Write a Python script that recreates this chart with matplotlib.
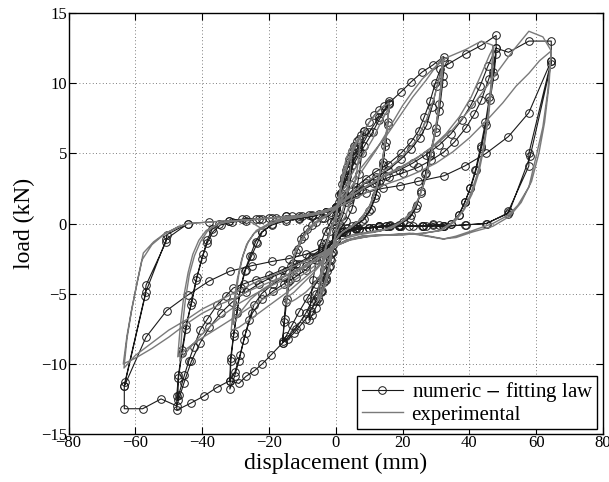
import numpy as np
import matplotlib
matplotlib.use("Agg")
import matplotlib.pyplot as plt

plt.rcParams['font.family'] = ['Liberation Serif', 'DejaVu Serif']
plt.rcParams['mathtext.fontset'] = 'stix'

# ---------------- numeric - fitting law (displacement mm, load kN) ----------------
num_small = [(0, 0), (1, 1.5), (2, 2.8), (3, 3.8), (4, 4.6), (5, 5.2), (5.5, 5.5),
             (5, 4.2), (4.2, 2.8), (3.2, 1.5), (2, 0.5), (1, 0), (0, -0.5),
             (-0.8, -1.5), (-1.6, -2.5), (-2.5, -3.4), (-3.5, -4.2), (-4.5, -4.9), (-5.2, -5.3),
             (-4.8, -4.0), (-4.0, -2.6), (-3.0, -1.4), (-1.8, -0.5), (-0.5, 0.2), (0.5, 0.8),
             (1.5, 2.0), (2.5, 3.1), (3.5, 4.0), (4.5, 4.8), (5.5, 5.4), (6.5, 5.9), (7.5, 6.3), (8.3, 6.6),
             (7.8, 5.0), (7, 3.5), (6, 2.1), (4.8, 1.0), (3.2, 0.2), (1.5, -0.3), (0, -0.8),
             (-1, -2.0), (-2, -3.1), (-3, -4.0), (-4, -4.8), (-5, -5.5), (-6, -6.0), (-7, -6.5), (-8, -6.9),
             (-7.5, -5.5), (-6.8, -4.0), (-5.8, -2.6), (-4.5, -1.4), (-3, -0.5), (-1.5, 0.1), (0, 0.6)]

num_16 = [(1, 2.0), (2.5, 3.3), (4, 4.4), (5.5, 5.3), (7, 6.0), (8.5, 6.6), (10, 7.2), (11.5, 7.7),
          (13, 8.1), (14.5, 8.4), (16, 8.7),
          (15.6, 7.2), (15, 5.8), (14.2, 4.4), (13.2, 3.1), (12, 2.0), (10.5, 1.0), (8.5, 0.3), (6, -0.1),
          (3.5, -0.3), (1.5, -0.6), (0, -1.0),
          (-0.8, -2.0), (-1.8, -3.0), (-3, -3.9), (-4.4, -4.8), (-6, -5.5), (-7.5, -6.2), (-9, -6.8),
          (-10.7, -7.3), (-12.5, -7.8), (-14.2, -8.2), (-15.9, -8.5),
          (-15.5, -7.0), (-15, -5.6), (-14.3, -4.2), (-13.3, -3.0), (-12, -2.0), (-10.5, -1.1), (-8.5, -0.4),
          (-6, 0.1), (-3.5, 0.4), (-1.5, 0.7), (0, 1.0),
          (1.5, 2.2), (3.5, 3.4), (6, 4.5), (8.5, 5.5), (11, 6.5), (13, 7.4), (14.8, 8.1), (16, 8.5),
          (15.5, 7.0), (14.8, 5.5), (14, 4.2), (13, 2.9), (11.7, 1.8), (10, 0.9), (8, 0.2), (5, -0.2),
          (2.5, -0.5), (0, -1.0),
          (-1.5, -2.2), (-3.5, -3.3), (-6, -4.3), (-8.5, -5.3), (-11, -6.3), (-13, -7.2), (-14.8, -8.0), (-15.9, -8.4),
          (-15.3, -6.8), (-14.6, -5.4), (-13.8, -4.0), (-12.8, -2.8), (-11.3, -1.8), (-9.5, -0.9), (-7, -0.1),
          (-4, 0.4), (-1.5, 0.8), (0, 1.1)]

num_32 = [(1.5, 2.2), (4, 3.8), (7, 5.2), (10, 6.5), (13, 7.6), (16, 8.6), (19.6, 9.4), (22.6, 10.1),
          (25.9, 10.8), (29.1, 11.3), (32.3, 11.9),
          (32, 10.5), (31, 8.5), (29.9, 6.8), (28.3, 5.0), (27, 3.6), (25.6, 2.3), (24.2, 1.3), (22.6, 0.6),
          (20, 0.1), (16.1, -0.1), (13, -0.2), (10, -0.3), (6, -0.4), (3, -0.6), (0, -1.2),
          (-1.5, -2.6), (-3.5, -3.8), (-6, -5.0), (-9, -6.4), (-12, -7.5), (-15.9, -8.5), (-19.5, -9.4),
          (-22, -10.0), (-24.4, -10.5), (-26.9, -10.9), (-29, -11.4), (-31.7, -11.2),
          (-31.5, -9.6), (-30.5, -7.8), (-29.5, -6.2), (-28.5, -4.6), (-27, -3.3), (-25.2, -2.3), (-23.5, -1.4),
          (-22, -0.6), (-19, 0), (-15, 0.3), (-11, 0.4), (-7, 0.5), (-3, 0.8), (0, 1.2),
          (3, 1.8), (6, 2.4), (9, 2.9), (12, 3.3), (15.6, 3.8), (19.6, 4.6), (22.5, 5.3), (25.1, 6.1),
          (27.2, 7.0), (28.8, 8.3), (30.3, 9.8), (32.3, 11.6),
          (32, 10.0), (31, 8.0), (29.9, 6.5), (28.3, 4.9), (26.8, 3.5), (25.4, 2.2), (24, 1.1), (22.2, 0.4),
          (19, -0.1), (15, -0.2), (11, -0.3), (7, -0.4), (3, -0.6), (0, -1.2),
          (-3, -1.8), (-6, -2.4), (-9, -3.0), (-12, -3.4), (-15.5, -3.8), (-18.7, -4.3), (-22.2, -5.0),
          (-24.5, -5.8), (-26, -6.9), (-27.5, -8.3), (-29, -9.8), (-30.3, -10.9), (-31.7, -11.8),
          (-31.4, -9.8), (-30.6, -8.0), (-29.6, -6.4), (-28.7, -4.8), (-27.3, -3.4), (-25.6, -2.3), (-24, -1.3),
          (-22.2, -0.6), (-19, -0.1), (-15, 0.2), (-11, 0.35), (-7, 0.5), (-3, 0.8), (0, 1.2)]

num_48 = [(3, 1.9), (6, 2.6), (9, 3.2), (12, 3.7), (15.5, 4.2), (19.5, 5.0), (22.5, 5.8), (24.8, 6.6),
          (26.5, 7.6), (28.2, 8.7), (29.8, 10.0), (31.3, 11.0), (33.9, 11.4), (38.9, 12.1), (43.6, 12.7), (48.0, 13.4),
          (48.0, 12.5), (47.2, 10.8), (46, 9.0), (44.8, 7.2), (43.4, 5.5), (41.8, 3.8), (40.2, 2.5), (38.6, 1.5),
          (36.8, 0.6), (34.5, 0.0), (32.4, -0.2), (29, -0.1), (26, -0.2), (22, -0.2), (19, -0.2), (16, -0.2),
          (13, -0.2), (10, -0.3), (6, -0.4), (3, -0.6), (0, -1.2),
          (-3, -1.9), (-6, -2.6), (-9, -3.3), (-12, -3.8), (-15.5, -4.3), (-18.7, -4.8), (-22, -5.4), (-25, -6.4),
          (-27, -7.8), (-28.7, -9.4), (-30.2, -10.6), (-31.7, -11.2), (-35.7, -11.7), (-39.5, -12.3),
          (-43.4, -12.8), (-47.6, -13.3),
          (-47.6, -12.3), (-47.1, -10.8), (-46, -9.0), (-44.8, -7.2), (-43.1, -5.6), (-41.5, -3.8), (-39.7, -2.2),
          (-38.5, -1.2), (-37, -0.4), (-35, 0), (-32, 0.2), (-28, 0.3), (-24, 0.35), (-20, 0.4), (-15, 0.5),
          (-10, 0.5), (-5, 0.7), (0, 1.2),
          (4, 1.8), (8, 2.4), (12, 2.9), (16, 3.3), (20, 3.6), (24.6, 4.0), (28.5, 4.5), (32.4, 5.1), (35.5, 5.8),
          (38.9, 6.8), (41.5, 7.8), (43.6, 8.8), (45.8, 10.3), (48, 12.1),
          (47.3, 10.5), (46.2, 8.8), (45, 7.0), (43.6, 5.4), (42, 3.8), (40.3, 2.5), (38.6, 1.5), (36.8, 0.6),
          (34.5, 0), (31, -0.1), (27, -0.2), (23, -0.2), (19, -0.2), (15, -0.2), (11, -0.3), (7, -0.4),
          (3, -0.6), (0, -1.2),
          (-4, -1.8), (-8, -2.4), (-12, -2.9), (-16, -3.3), (-20, -3.7), (-24, -4.0), (-27.5, -4.3), (-30.7, -4.6),
          (-33, -5.2), (-35.5, -5.8), (-38.4, -6.8), (-40.6, -7.6), (-42.5, -8.8), (-44, -9.8), (-45.3, -10.8),
          (-47, -12.2), (-47.3, -12.6),
          (-47.1, -11.0), (-46, -9.2), (-44.8, -7.5), (-43.4, -5.8), (-41.8, -4.0), (-40.1, -2.5), (-38.5, -1.4),
          (-36.8, -0.6), (-34.5, -0.1), (-31, 0.1), (-27, 0.2), (-23, 0.3), (-19, 0.4), (-15, 0.5), (-11, 0.5),
          (-7, 0.6), (-3, 0.8), (0, 1.2)]

num_64 = [(3, 1.8), (7, 2.4), (11, 2.9), (15, 3.4), (19, 3.8), (23, 4.3), (27, 4.9), (31, 5.6), (34.5, 6.4),
          (37.8, 7.4), (40.6, 8.5), (43.2, 9.8), (45.5, 11.2), (48.0, 12.5), (51.7, 12.2), (57.8, 13.0), (64.5, 13.0),
          (64.5, 11.6), (57.8, 5.0), (57.8, 4.1), (51.7, 0.9), (51.5, 0.7), (45.0, 0.0), (38.9, -0.1),
          (32.4, -0.2), (29.1, 0), (25.9, -0.2), (19.1, -0.2), (16.1, -0.2), (13, -0.2), (10, -0.3), (5.7, -0.3),
          (2, -0.6), (0, -1.0),
          (-3, -1.8), (-7, -2.4), (-11, -2.9), (-15, -3.4), (-19, -3.8), (-23, -4.3), (-27, -4.9), (-31, -5.6),
          (-34.5, -6.4), (-37.8, -7.4), (-40.6, -8.5), (-43.2, -9.8), (-45.5, -11.4), (-47.6, -13.0),
          (-52.3, -12.5), (-57.8, -13.2), (-63.3, -13.2),
          (-63.3, -11.6), (-57.1, -5.2), (-56.8, -4.4), (-50.8, -1.3), (-50.6, -0.8), (-44.3, 0), (-38, 0.1),
          (-32, 0.2), (-27, 0.3), (-22, 0.35), (-18, 0.4), (-13, 0.5), (-8, 0.6), (-3, 0.8), (0, 1.2),
          (4, 1.7), (9, 2.2), (14, 2.5), (19.1, 2.7), (24.6, 3.0), (32.4, 3.4), (38.6, 4.1), (45, 5.0),
          (51.7, 6.2), (57.8, 7.9), (64.5, 11.6),
          (64.5, 11.4), (58.2, 4.8), (51.9, 0.8), (45.2, 0.0), (38.7, -0.1), (32.2, -0.2), (26, -0.2),
          (19.5, -0.2), (13, -0.25), (6, -0.3), (2, -0.6), (0, -1.0),
          (-4, -1.7), (-9, -2.2), (-14, -2.5), (-19, -2.7), (-25, -3.0), (-31.7, -3.4), (-37.9, -4.1),
          (-44.3, -5.1), (-50.6, -6.2), (-56.8, -8.1), (-63.3, -11.6),
          (-63.1, -11.3), (-56.9, -4.9), (-50.7, -1.1), (-44.2, 0)]

# ---------------- experimental ----------------
exp_small = [(0, 0), (1, 2), (2, 3.5), (3, 4.5), (4, 5.2), (5, 5.6),
             (4.2, 3.5), (3, 1.8), (1.5, 0.5), (0, -0.5), (-1, -2), (-2, -3.4), (-3, -4.3), (-4, -5.0), (-4.8, -5.4),
             (-4, -3.5), (-3, -1.8), (-1.5, -0.5), (0, 0.5), (1.5, 2.5), (3, 4.0), (4.5, 5.0), (6, 5.8), (7.5, 6.3),
             (6.5, 4.0), (5, 2.0), (3, 0.6), (1, -0.3), (-0.5, -1.2), (-1.8, -2.8), (-3, -3.9), (-4.2, -4.8),
             (-5.5, -5.5), (-4.5, -3.5), (-3.2, -1.8), (-1.5, -0.4), (0, 0.6)]

exp_16 = [(2, 3.0), (4, 4.5), (6, 5.6), (8, 6.5), (10, 7.2), (12, 7.8), (14, 8.3), (16, 8.6),
          (15.2, 6.5), (14, 4.5), (12.5, 2.8), (10.5, 1.4), (8, 0.4), (5, -0.2), (2, -0.6), (0, -1.2),
          (-2, -2.5), (-4, -3.5), (-6.5, -4.3), (-9, -4.9), (-12, -5.4), (-15, -5.8),
          (-14, -3.8), (-12.5, -2.3), (-10.5, -1.2), (-8, -0.3), (-5, 0.3), (-2, 0.7), (0, 1.1),
          (2, 2.3), (5, 3.6), (8, 4.8), (11, 6.0), (13.5, 7.2), (16, 8.3),
          (15, 6.2), (13.8, 4.3), (12.3, 2.6), (10, 1.2), (7, 0.2), (4, -0.3), (1, -0.8), (-1, -1.6),
          (-4, -2.8), (-7, -3.6), (-10, -4.3), (-12.5, -4.9), (-14.8, -5.3),
          (-13.8, -3.4), (-12, -2.0), (-9.5, -0.9), (-6.5, -0.1), (-3, 0.5), (0, 1.0)]

exp_32 = [(3, 2.4), (7, 3.8), (11, 5.0), (15, 6.2), (19, 7.6), (23, 9.0), (27, 10.2), (30, 11.2), (32, 11.9),
          (31.5, 10.0), (30.5, 7.8), (29.3, 6.0), (28, 4.3), (26.5, 2.9), (24.8, 1.8), (22.5, 0.8), (19.5, 0.1),
          (15, -0.4), (10, -0.6), (5, -0.8), (1, -1.2),
          (-2, -2.2), (-6, -3.2), (-10, -4.0), (-14, -4.8), (-18, -5.5), (-22, -6.2), (-26, -6.9), (-29, -7.4),
          (-31.3, -7.6),
          (-30.5, -5.6), (-29.5, -4.0), (-28.2, -2.6), (-26.7, -1.5), (-24.5, -0.7), (-21, -0.2), (-17, 0.2),
          (-12, 0.4), (-7, 0.6), (-3, 0.8), (0, 1.2),
          (4, 2.0), (8, 2.8), (12, 3.4), (16, 4.0), (20, 4.8), (24, 5.9), (27, 7.3), (29.5, 9.0), (31.5, 10.8),
          (32.3, 11.7),
          (31.5, 9.5), (30.3, 7.3), (29, 5.5), (27.5, 3.8), (25.8, 2.4), (23.8, 1.2), (21, 0.3), (17, -0.3),
          (12, -0.6), (7, -0.8), (2, -1.1),
          (-2, -1.8), (-6, -2.5), (-10, -3.1), (-14, -3.6), (-18, -4.1), (-22, -4.7), (-25.5, -5.4), (-28.5, -6.3),
          (-30.7, -7.2),
          (-30, -5.2), (-29, -3.6), (-27.8, -2.3), (-26.2, -1.3), (-23.8, -0.5), (-20, 0), (-15, 0.3),
          (-10, 0.5), (-5, 0.7), (0, 1.1)]

exp_48 = [(4, 2.4), (8, 3.8), (12, 5.2), (16, 6.8), (20, 8.4), (23, 9.4), (25.9, 10.3), (29, 11.0),
          (33, 11.8), (38.9, 12.4), (43.6, 13.0), (47, 12.7),
          (46.5, 10.0), (45.5, 7.5), (44, 5.2), (42.2, 3.4), (40.2, 2.0), (38, 0.9), (35, 0.1), (31, -0.5),
          (26, -0.7), (20, -0.8), (14, -0.8), (8, -0.9), (3, -1.2), (0, -1.6),
          (-4, -2.6), (-9, -3.5), (-14, -4.3), (-19, -5.0), (-24, -5.7), (-29, -6.5), (-33, -7.1), (-37, -7.7),
          (-41, -8.3), (-44.5, -8.9), (-47.3, -9.5),
          (-46.5, -7.2), (-45.5, -5.2), (-44.2, -3.5), (-42.8, -2.2), (-41, -1.2), (-38.8, -0.5), (-35, 0),
          (-30, 0.2), (-25, 0.3), (-20, 0.4), (-15, 0.5), (-10, 0.6), (-5, 0.8), (0, 1.2),
          (4, 1.9), (9, 2.6), (14, 3.3), (19, 3.9), (24, 4.6), (29, 5.5), (33, 6.4), (37, 7.6), (40.5, 9.0),
          (43.5, 10.6), (46, 12.0), (47.3, 12.6),
          (46.8, 10.2), (45.8, 7.8), (44.5, 5.6), (42.8, 3.6), (40.8, 2.1), (38.5, 1.0), (35.5, 0.1),
          (31.5, -0.5), (26, -0.7), (20, -0.8), (14, -0.8), (8, -0.9), (3, -1.2), (0, -1.6),
          (-4, -2.4), (-9, -3.1), (-14, -3.8), (-19, -4.4), (-24, -5.0), (-29, -5.7), (-33, -6.4), (-37, -7.2),
          (-40.5, -8.0), (-43.5, -8.8), (-46.7, -9.8),
          (-46, -7.5), (-45, -5.4), (-43.8, -3.6), (-42.3, -2.3), (-40.5, -1.3), (-38.3, -0.5), (-35, 0),
          (-30, 0.2), (-24, 0.3), (-18, 0.4), (-12, 0.5), (-6, 0.7), (0, 1.2)]

exp_64 = [(5, 2.0), (10, 2.8), (15, 3.5), (20, 4.1), (25, 4.8), (30, 5.6), (35, 6.7), (40, 8.1), (45, 9.7),
          (49, 11.0), (53, 12.3), (57.8, 13.7), (62, 13.3), (64.5, 12.3),
          (63.5, 9.5), (62, 6.9), (60, 4.8), (57.8, 2.6), (54.5, 1.3), (51.7, 0.6), (47, 0), (41, -0.5),
          (36, -0.9), (32.4, -1.1), (28, -0.9), (23.1, -0.7), (17, -0.8), (11, -0.9), (5, -1.1), (0, -1.6),
          (-5, -2.4), (-10, -3.1), (-15, -3.7), (-20, -4.2), (-25, -4.7), (-30, -5.3), (-35, -5.8), (-40, -6.4),
          (-45, -7.2), (-50, -8.1), (-55, -8.9), (-60, -9.6), (-63.6, -10.0),
          (-62.5, -8.0), (-61, -6.0), (-59.3, -4.0), (-57.6, -2.1), (-54.5, -1.3), (-51.1, -0.7), (-47.5, -0.3),
          (-44.3, 0), (-38, 0.1), (-32, 0.2), (-26, 0.2), (-22, -0.4), (-19, 0.2), (-14, 0.4), (-8, 0.6), (0, 1.1),
          (5, 1.7), (10, 2.3), (15, 2.8), (20, 3.2), (25, 3.7), (30, 4.3), (35, 5.1), (40, 6.1), (45, 7.3),
          (50, 8.6), (54, 9.8), (57.8, 10.7), (61, 11.6), (64.5, 12.3),
          (63.8, 9.8), (62.5, 7.2), (60.8, 5.0), (58.6, 3.0), (55.5, 1.5), (52, 0.5), (47, -0.2), (41, -0.6),
          (36, -1.0), (32, -1.1), (27, -0.9), (22, -0.7), (16, -0.8), (10, -0.9), (4, -1.2), (0, -1.6),
          (-5, -2.2), (-10, -2.8), (-15, -3.3), (-20, -3.8), (-25, -4.3), (-30, -4.9), (-35, -5.5), (-40, -6.1),
          (-45, -6.9), (-50, -7.6), (-55, -8.5), (-60, -9.4), (-63.4, -10.3),
          (-62.5, -8.2), (-61.2, -6.3), (-59.6, -4.4), (-58, -2.6), (-55, -1.5), (-51.5, -0.8), (-47, -0.2),
          (-44, 0)]

x_ticks = [-80, -60, -40, -20, 0, 20, 40, 60, 80]
y_ticks = [-15, -10, -5, 0, 5, 10, 15]

num = np.array(num_small + num_16 + num_32 + num_48 + num_64)
exp = np.array(exp_small + exp_16 + exp_32 + exp_48 + exp_64)

fig = plt.figure(figsize=(6.09, 4.82), dpi=100)
ax = fig.add_axes([0.1125, 0.0996, 0.8777, 0.8734])

ax.plot(num[:, 0], num[:, 1], color='#1a1a1a', lw=0.8, marker='o', ms=5.5,
        mfc='none', mec='#1a1a1a', mew=0.7, label='numeric $-$ fitting law')
ax.plot(exp[:, 0], exp[:, 1], color='#7a7a7a', lw=1.0, label='experimental')

ax.set_xlim(-80, 80)
ax.set_ylim(-15, 15)
ax.set_xticks(x_ticks)
ax.set_yticks(y_ticks)
ax.set_xticklabels(['\u2212%d' % -t if t < 0 else '%d' % t for t in x_ticks])
ax.set_yticklabels(['\u2212%d' % -t if t < 0 else '%d' % t for t in y_ticks])
ax.tick_params(direction='in', top=True, right=True, length=5, width=0.8, labelsize=12, pad=1)
ax.grid(True, linestyle=(0, (1, 3)), color='#555555', linewidth=0.6)
for s in ax.spines.values():
    s.set_linewidth(1.0)
    s.set_color('black')

ax.set_xlabel('displacement (mm)', fontsize=17, labelpad=1)
ax.set_ylabel('load (kN)', fontsize=17, labelpad=4)

leg = ax.legend(loc='lower right', bbox_to_anchor=(0.989, 0.012), borderaxespad=0,
                fancybox=False, edgecolor='black', fontsize=15, handlelength=2.0,
                numpoints=1, framealpha=1, borderpad=0.2, labelspacing=0.05, handletextpad=0.4)
leg.get_frame().set_linewidth(1.0)

fig.savefig('out.png', dpi=100)
